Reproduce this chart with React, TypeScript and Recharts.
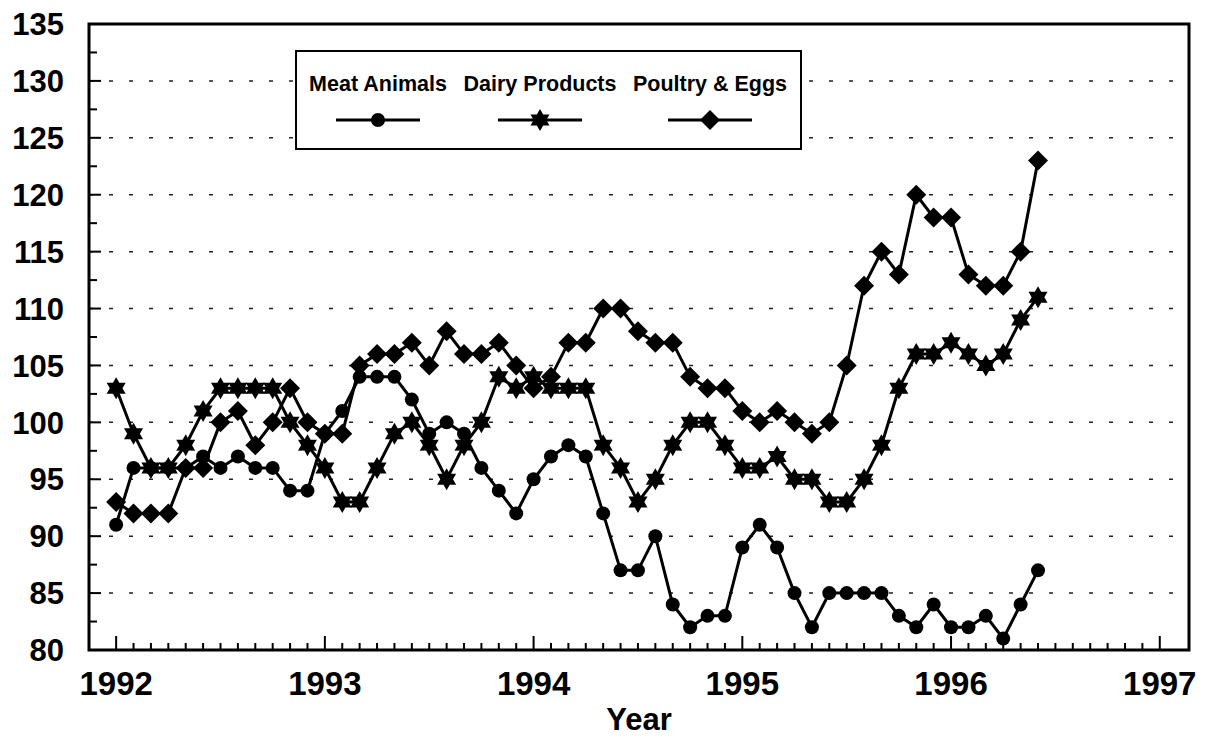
import React from 'react';
import {
  LineChart,
  Line,
  XAxis,
  YAxis,
  ReferenceLine,
  ReferenceArea,
  Legend
} from 'recharts';

const START_YEAR = 1992;
const YEAR_TICKS = [1992, 1993, 1994, 1995, 1996, 1997];
const Y_LABELS = [80, 85, 90, 95, 100, 105, 110, 115, 120, 125, 130, 135];
const GRID_VALUES = [85, 90, 95, 100, 105, 110, 115, 120, 125, 130];

const meatAnimals = [
  91, 96, 96, 96, 96, 97, 96, 97, 96, 96, 94, 94,
  99, 101, 104, 104, 104, 102, 99, 100, 99, 96, 94, 92,
  95, 97, 98, 97, 92, 87, 87, 90, 84, 82, 83, 83,
  89, 91, 89, 85, 82, 85, 85, 85, 85, 83, 82, 84,
  82, 82, 83, 81, 84, 87
];

const dairyProducts = [
  103, 99, 96, 96, 98, 101, 103, 103, 103, 103, 100, 98,
  96, 93, 93, 96, 99, 100, 98, 95, 98, 100, 104, 103,
  104, 103, 103, 103, 98, 96, 93, 95, 98, 100, 100, 98,
  96, 96, 97, 95, 95, 93, 93, 95, 98, 103, 106, 106,
  107, 106, 105, 106, 109, 111
];

const poultryEggs = [
  93, 92, 92, 92, 96, 96, 100, 101, 98, 100, 103, 100,
  99, 99, 105, 106, 106, 107, 105, 108, 106, 106, 107, 105,
  103, 104, 107, 107, 110, 110, 108, 107, 107, 104, 103, 103,
  101, 100, 101, 100, 99, 100, 105, 112, 115, 113, 120, 118,
  118, 113, 112, 112, 115, 123
];

const data = meatAnimals.map((v, i) => ({
  t: START_YEAR + i / 12,
  meat: v,
  dairy: dairyProducts[i],
  poultry: poultryEggs[i],
}));

// monthly minor ticks between the first and last year
const MONTH_TICKS: number[] = [];
for (let k = 0; k <= (YEAR_TICKS[YEAR_TICKS.length - 1] - YEAR_TICKS[0]) * 12; k++) {
  MONTH_TICKS.push(YEAR_TICKS[0] + k / 12);
}
const Y_TICKS: number[] = [];
for (let v = Y_LABELS[0]; v <= Y_LABELS[Y_LABELS.length - 1]; v += 2.5) Y_TICKS.push(v);

const FONT = '"Liberation Sans", Arial, Helvetica, sans-serif';

const hexagram = (cx: number, cy: number, r: number) => {
  const pts: string[] = [];
  for (let k = 0; k < 12; k++) {
    const a = -Math.PI / 2 + (k * Math.PI) / 6;
    const rad = k % 2 === 0 ? r : r * 0.577;
    pts.push(`${cx + rad * Math.cos(a)},${cy + rad * Math.sin(a)}`);
  }
  return pts.join(' ');
};

const Marker = ({ kind, cx, cy }: { kind: string; cx: number; cy: number }) => {
  if (kind === 'circle') return <circle cx={cx} cy={cy} r={7} fill="#000" />;
  if (kind === 'diamond')
    return (
      <polygon
        points={`${cx},${cy - 10} ${cx + 10},${cy} ${cx},${cy + 10} ${cx - 10},${cy}`}
        fill="#000"
      />
    );
  return <polygon points={hexagram(cx, cy, 11)} fill="#000" />;
};

const makeDot = (kind: string) => (props: any) => {
  const { cx, cy, index } = props;
  if (cx == null || cy == null) return <g key={`d-${kind}-${index}`} />;
  return (
    <g key={`d-${kind}-${index}`}>
      <Marker kind={kind} cx={cx} cy={cy} />
    </g>
  );
};

const XTick = (props: any) => {
  const { x, y, payload } = props;
  const v = payload.value;
  const isYear = Math.abs(v - Math.round(v)) < 1e-6;
  return (
    <g>
      <line x1={x} x2={x} y1={y} y2={y - (isYear ? 14 : 7)} stroke="#000" strokeWidth={2} />
      {isYear && (
        <text
          x={x}
          y={y + 45}
          textAnchor="middle"
          fontFamily={FONT}
          fontWeight="bold"
          fontSize={33}
          fill="#000"
        >
          {Math.round(v)}
        </text>
      )}
    </g>
  );
};

const YTick = (props: any) => {
  const { x, y, payload } = props;
  const v = payload.value;
  const major = v % 5 === 0;
  return (
    <g>
      <line x1={x} x2={x + (major ? 12 : 8)} y1={y} y2={y} stroke="#000" strokeWidth={2} />
      {major && (
        <text
          x={x - 25}
          y={y}
          dy="0.36em"
          textAnchor="end"
          fontFamily={FONT}
          fontWeight="bold"
          fontSize={31}
          fill="#000"
        >
          {v}
        </text>
      )}
    </g>
  );
};

const LEGEND_ITEMS = [
  { name: 'Meat Animals', kind: 'circle', cx: 83 },
  { name: 'Dairy Products', kind: 'star', cx: 245 },
  { name: 'Poultry & Eggs', kind: 'diamond', cx: 415 },
];

const LegendBox = () => (
  <svg width={507} height={100} style={{ display: 'block' }}>
    <rect x={1} y={1} width={505} height={98} fill="#fff" stroke="#000" strokeWidth={2} />
    {LEGEND_ITEMS.map((item) => (
      <g key={item.name}>
        <text
          x={item.cx}
          y={41}
          textAnchor="middle"
          fontFamily={FONT}
          fontWeight="bold"
          fontSize={21.5}
          fill="#000"
        >
          {item.name}
        </text>
        <line x1={item.cx - 42} x2={item.cx + 42} y1={70} y2={70} stroke="#000" strokeWidth={3} />
        <Marker kind={item.kind} cx={item.cx} cy={70} />
      </g>
    ))}
  </svg>
);

const FarmPricesChart: React.FC = () => {
  return (
    <div style={{ position: 'absolute', left: 0, top: 0, background: '#fff' }}>
      <LineChart
        width={1207}
        height={740}
        data={data}
        margin={{ top: 24, right: 18, bottom: 0, left: 0 }}
      >
        {GRID_VALUES.map((v) => (
          <ReferenceLine
            key={`g-${v}`}
            y={v}
            stroke="#222"
            strokeWidth={1.5}
            strokeDasharray="4 16"
          />
        ))}
        <XAxis
          dataKey="t"
          type="number"
          domain={[1991.87, 1997.14]}
          allowDataOverflow
          ticks={MONTH_TICKS}
          interval={0}
          tickSize={0}
          tickMargin={0}
          tick={XTick}
          axisLine={false}
          height={90}
          label={{
            value: 'Year',
            position: 'insideBottom',
            offset: 10,
            style: { fontFamily: FONT, fontWeight: 'bold', fontSize: 31, fill: '#000' },
          }}
        />
        <YAxis
          type="number"
          domain={[80, 135]}
          allowDataOverflow
          ticks={Y_TICKS}
          interval={0}
          tickSize={0}
          tickMargin={0}
          tick={YTick}
          axisLine={false}
          width={89}
        />
        <ReferenceArea y1={80} y2={135} fill="none" stroke="#000" strokeWidth={3} />
        <Line
          dataKey="meat"
          name="Meat Animals"
          stroke="#000"
          strokeWidth={3}
          dot={makeDot('circle')}
          activeDot={false}
          isAnimationActive={false}
        />
        <Line
          dataKey="dairy"
          name="Dairy Products"
          stroke="#000"
          strokeWidth={3}
          dot={makeDot('star')}
          activeDot={false}
          isAnimationActive={false}
        />
        <Line
          dataKey="poultry"
          name="Poultry & Eggs"
          stroke="#000"
          strokeWidth={3}
          dot={makeDot('diamond')}
          activeDot={false}
          isAnimationActive={false}
        />
        <Legend
          layout="horizontal"
          verticalAlign="middle"
          align="center"
          content={() => <LegendBox />}
          wrapperStyle={{ position: 'absolute', left: 295, top: 50, width: 507, height: 100 }}
        />
      </LineChart>
    </div>
  );
};

export default FarmPricesChart;
